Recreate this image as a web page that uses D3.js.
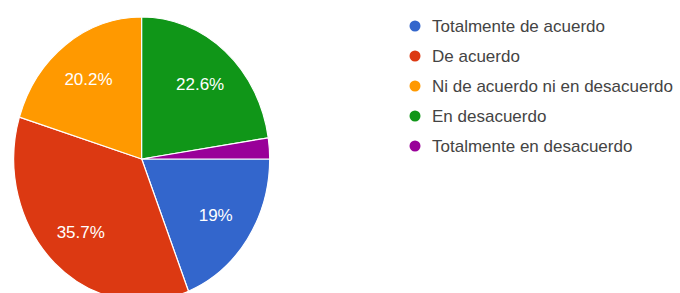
<!DOCTYPE html>
<html lang="es">
<head>
    <meta charset="UTF-8">
    <title>Pie chart</title>
    <script src="https://d3js.org/d3.v7.min.js"></script>
    <style>
        body { margin: 0; background: #fff; }
        .slice { stroke: #fff; stroke-width: 1.2; }
        .slice-label {
            fill: #fff;
            font-family: "Liberation Sans", Arial, sans-serif;
            font-size: 17px;
            text-anchor: middle;
        }
        .legend-label {
            fill: #444;
            font-family: "Liberation Sans", Arial, sans-serif;
            font-size: 17px;
        }
    </style>
</head>
<body>
    <svg id="chart" width="680" height="293"></svg>

    <script>
        // answer categories and response counts (84 responses)
        const categories = [
            "Totalmente de acuerdo",
            "De acuerdo",
            "Ni de acuerdo ni en desacuerdo",
            "En desacuerdo",
            "Totalmente en desacuerdo"
        ];
        const counts = [16, 30, 17, 19, 2];
        const colors = ["#3366cc", "#dc3912", "#ff9900", "#109618", "#990099"];

        const svg = d3.select("#chart");

        const cx = 141.7, cy = 159;
        const rx = 128, ry = 142;   // picture is a bit stretched vertically
        const sy = ry / rx;

        const total = d3.sum(counts);
        const data = categories.map((c, i) => ({name: c, value: counts[i], color: colors[i]}));

        const pie = d3.pie()
            .sort(null)
            .value(d => d.value)
            .startAngle(Math.PI / 2)
            .endAngle(Math.PI / 2 + 2 * Math.PI);

        const arcs = pie(data);
        const arc = d3.arc().innerRadius(0).outerRadius(rx);
        const labelArc = d3.arc().innerRadius(rx * 0.7).outerRadius(rx * 0.7);

        // Draw slices
        svg.append("g")
           .attr("transform", `translate(${cx},${cy}) scale(1,${sy})`)
           .selectAll("path")
           .data(arcs)
           .enter()
           .append("path")
           .attr("class", "slice")
           .attr("vector-effect", "non-scaling-stroke")
           .attr("d", arc)
           .attr("fill", d => d.data.color);

        // Percentage labels (skip tiny slices)
        const fmt = d3.format(".1~f");
        svg.append("g")
           .attr("transform", `translate(${cx},${cy})`)
           .selectAll("text")
           .data(arcs.filter(d => d.data.value / total > 0.05))
           .enter()
           .append("text")
           .attr("class", "slice-label")
           .attr("x", d => labelArc.centroid(d)[0])
           .attr("y", d => labelArc.centroid(d)[1] * sy)
           .attr("dy", "0.36em")
           .text(d => fmt(d.data.value / total * 100) + "%");

        // Legend
        const legend = svg.append("g")
            .selectAll("g")
            .data(data)
            .enter()
            .append("g")
            .attr("transform", (d, i) => `translate(415,${26 + i * 30})`);

        legend.append("circle")
              .attr("r", 5.5)
              .attr("fill", d => d.color);

        legend.append("text")
              .attr("class", "legend-label")
              .attr("x", 17)
              .attr("y", 5.5)
              .text(d => d.name);
    </script>
</body>
</html>
